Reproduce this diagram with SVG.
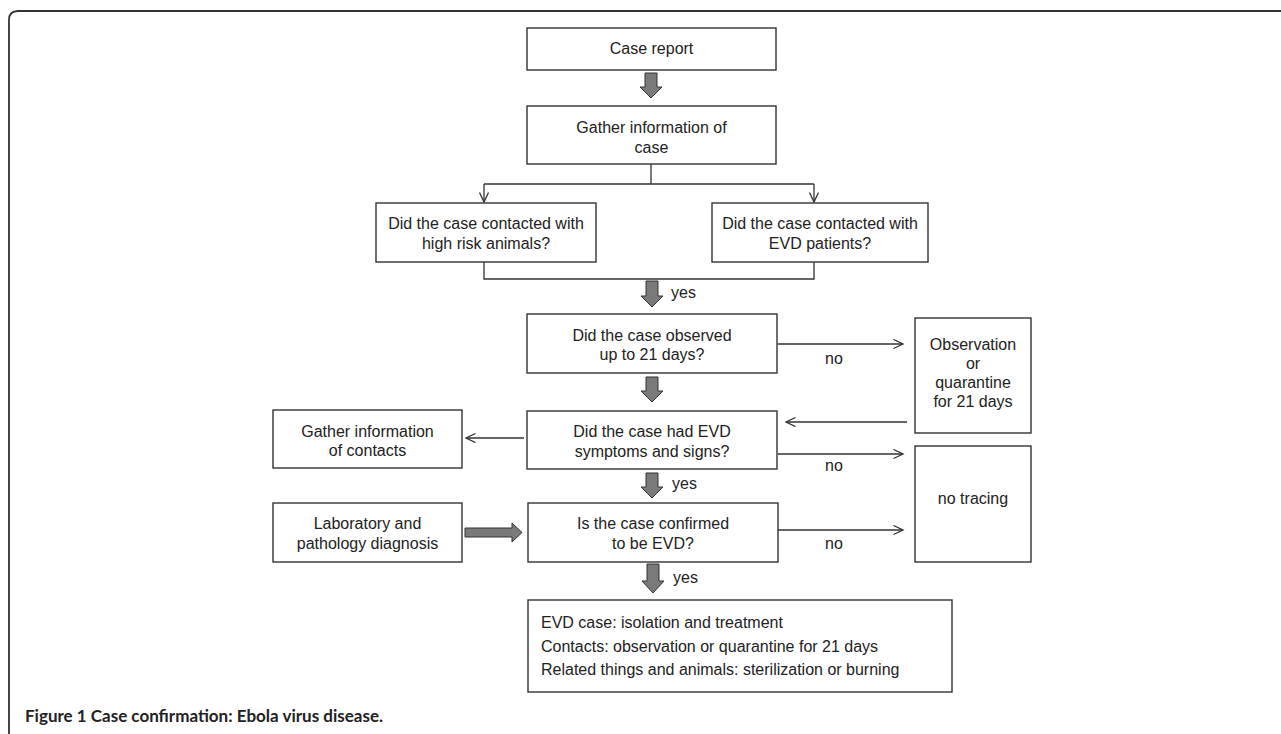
<svg xmlns="http://www.w3.org/2000/svg" width="1281" height="734" viewBox="0 0 1281 734">
<defs>
<style>
.box{fill:#fff;stroke:#333;stroke-width:1.4}
.t{font-family:"Liberation Sans",Arial,Helvetica,sans-serif;font-size:16px;fill:#222;text-anchor:middle}
.tl{font-family:"Liberation Sans",Arial,Helvetica,sans-serif;font-size:16px;fill:#222}
.ln{fill:none;stroke:#333;stroke-width:1.3}
.ar{fill:none;stroke:#333;stroke-width:1.3;marker-end:url(#open)}
.big{fill:#7a7a7a;stroke:#333;stroke-width:1}
.cap{font-family:Lato,"Open Sans",sans-serif;font-weight:700;font-size:17px;fill:#222}
</style>
<marker id="open" markerUnits="userSpaceOnUse" markerWidth="12" markerHeight="12" refX="10" refY="5" orient="auto">
<path d="M0.5,0.5 L10,5 L0.5,9.5" fill="none" stroke="#333" stroke-width="1.3"/>
</marker>
</defs>
<rect width="1281" height="734" fill="#fff"/>
<path d="M9,734 L9,20 Q9,11 18,11 L1281,11" fill="none" stroke="#333" stroke-width="1.8"/>

<g id="connectors">
<path class="big" d="M645,73 H657 V87 H662 L651,98 L640,87 H645 Z"/>
<path class="ln" d="M651,164 V184 M484,184 H814"/>
<path class="ar" d="M484,184 V202"/>
<path class="ar" d="M814,184 V202"/>
<path class="ln" d="M484,262 V279 H814 V262"/>
<path class="big" d="M646,281 H658 V296 H663 L652,307 L641,296 H646 Z"/>
<text class="tl" x="671" y="298">yes</text>
<path class="big" d="M646,377 H658 V391 H663 L652,402 L641,391 H646 Z"/>
<path class="big" d="M646,473 H658 V487 H663 L652,498 L641,487 H646 Z"/>
<text class="tl" x="672" y="489">yes</text>
<path class="big" d="M647,564 H659 V581 H664 L653,593 L642,581 H647 Z"/>
<text class="tl" x="673" y="583">yes</text>
<path class="ar" d="M778,344 H903"/>
<text class="t" x="834" y="364">no</text>
<path class="ar" d="M907,422 H786"/>
<path class="ar" d="M778,454 H903"/>
<text class="t" x="834" y="471">no</text>
<path class="ar" d="M778,530 H903"/>
<text class="t" x="834" y="549">no</text>
<path class="ar" d="M524,438 H466"/>
<path class="big" d="M465,528 H512 V523 L522,532.5 L512,542 V537 H465 Z"/>
</g>

<g id="case-report">
<rect class="box" x="527" y="28" width="249" height="42"/>
<text class="t" x="651.5" y="54">Case report</text>
</g>
<g id="gather-case">
<rect class="box" x="527" y="106" width="249" height="58"/>
<text class="t" x="651.5" y="133">Gather information of</text>
<text class="t" x="651.5" y="152.5">case</text>
</g>
<g id="q-animals">
<rect class="box" x="376" y="203" width="220" height="59"/>
<text class="t" x="486" y="229">Did the case contacted with</text>
<text class="t" x="486" y="248.5">high risk animals?</text>
</g>
<g id="q-patients">
<rect class="box" x="712" y="203" width="216" height="59"/>
<text class="t" x="820" y="229">Did the case contacted with</text>
<text class="t" x="820" y="248.5">EVD patients?</text>
</g>
<g id="q-observed">
<rect class="box" x="527" y="314" width="250" height="59"/>
<text class="t" x="652" y="340.5">Did the case observed</text>
<text class="t" x="652" y="360">up to 21 days?</text>
</g>
<g id="q-symptoms">
<rect class="box" x="527" y="411" width="250" height="58"/>
<text class="t" x="652" y="437">Did the case had EVD</text>
<text class="t" x="652" y="456.5">symptoms and signs?</text>
</g>
<g id="q-confirmed">
<rect class="box" x="528" y="503" width="250" height="59"/>
<text class="t" x="653" y="529">Is the case confirmed</text>
<text class="t" x="653" y="548.5">to be EVD?</text>
</g>
<g id="outcome">
<rect class="box" x="528" y="600" width="424" height="92"/>
<text class="tl" x="541" y="628">EVD case: isolation and treatment</text>
<text class="tl" x="541" y="652">Contacts: observation or quarantine for 21 days</text>
<text class="tl" x="541" y="675">Related things and animals: sterilization or burning</text>
</g>
<g id="observation">
<rect class="box" x="915" y="318" width="116" height="115"/>
<text class="t" x="973" y="350">Observation</text>
<text class="t" x="973" y="369">or</text>
<text class="t" x="973" y="388">quarantine</text>
<text class="t" x="973" y="407">for 21 days</text>
</g>
<g id="no-tracing">
<rect class="box" x="915" y="446" width="116" height="116"/>
<text class="t" x="973" y="504">no tracing</text>
</g>
<g id="gather-contacts">
<rect class="box" x="273" y="410" width="189" height="58"/>
<text class="t" x="367.5" y="436.5">Gather information</text>
<text class="t" x="367.5" y="456">of contacts</text>
</g>
<g id="lab">
<rect class="box" x="273" y="503" width="189" height="59"/>
<text class="t" x="367.5" y="529">Laboratory and</text>
<text class="t" x="367.5" y="548.5">pathology diagnosis</text>
</g>
<text class="cap" x="25" y="722" textLength="358" lengthAdjust="spacingAndGlyphs">Figure 1 Case confirmation: Ebola virus disease.</text>
</svg>
